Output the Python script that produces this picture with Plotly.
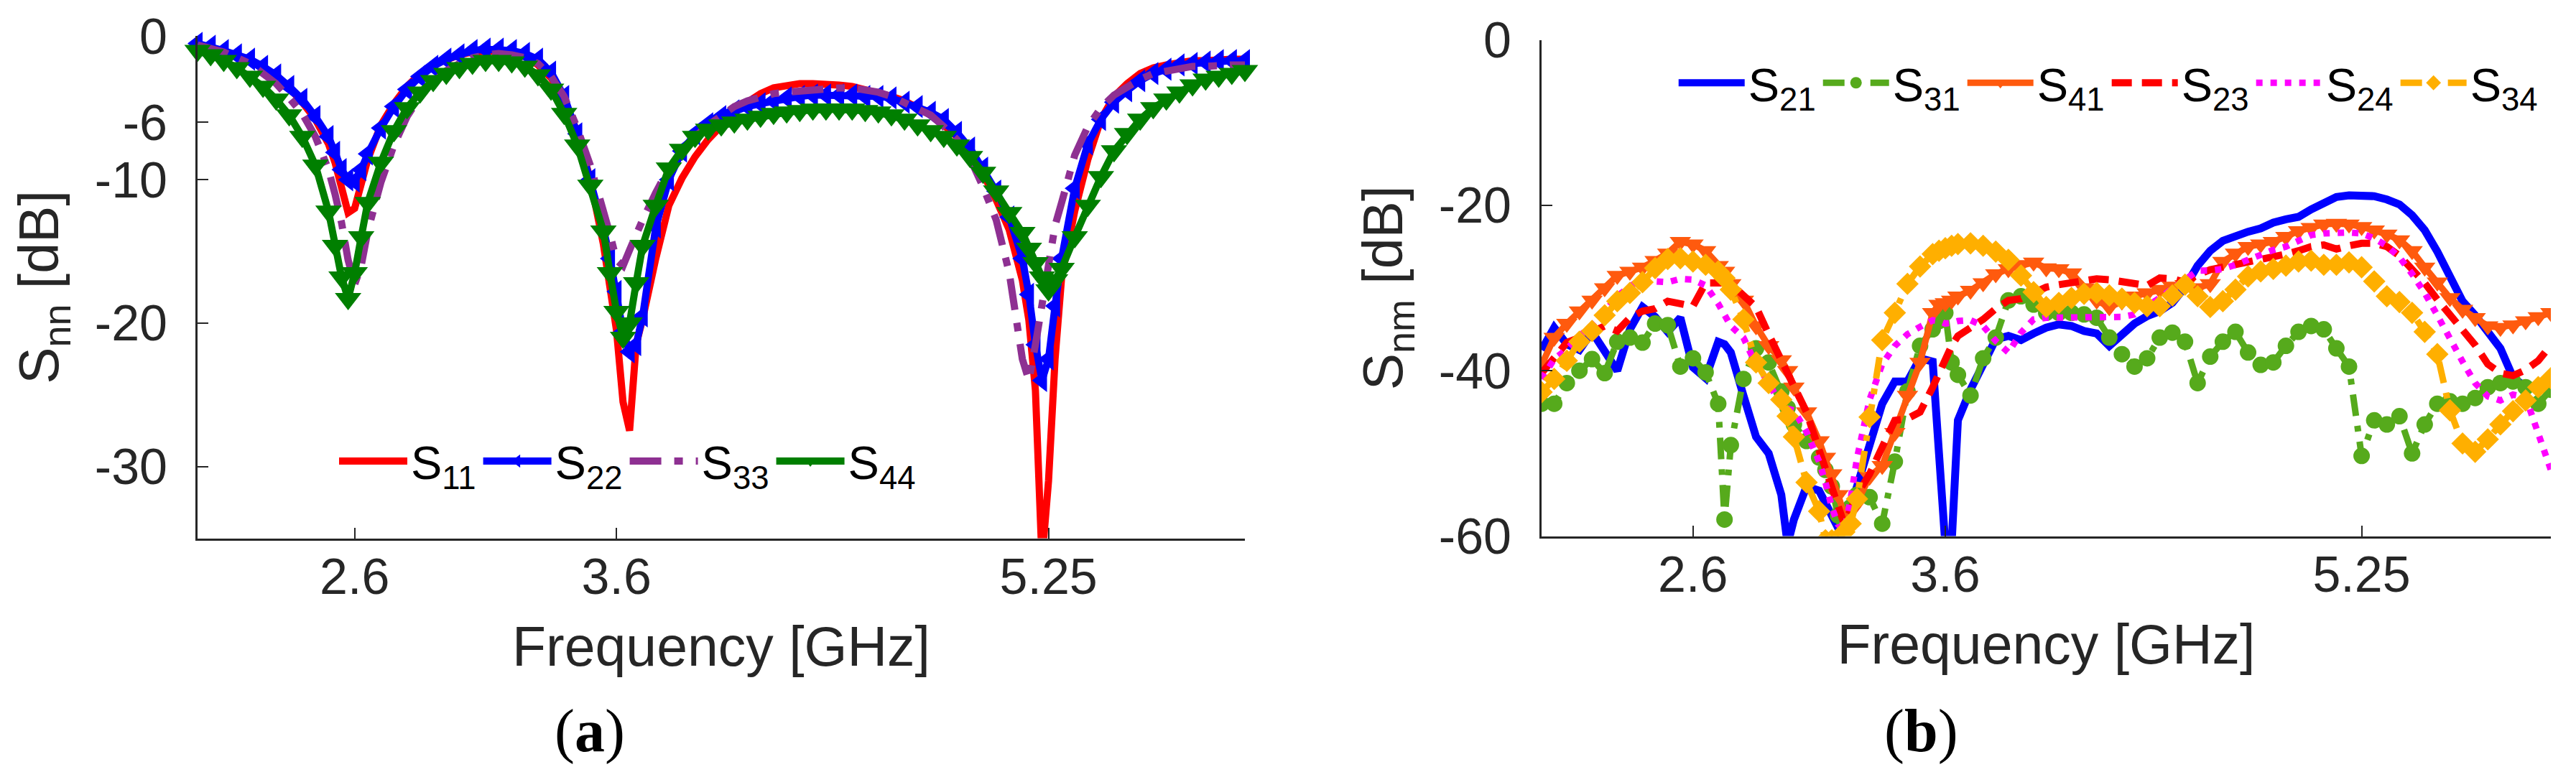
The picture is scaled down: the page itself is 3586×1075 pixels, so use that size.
import plotly.graph_objects as go

# ---- panel (a): reflection coefficients ----
freq_a = [2.00, 2.05, 2.10, 2.15, 2.20, 2.25, 2.30, 2.35, 2.40, 2.45, 2.50,
          2.525, 2.55, 2.575, 2.60, 2.625, 2.65,
          2.70, 2.75, 2.80, 2.85, 2.90, 2.95, 3.00, 3.05, 3.10, 3.15, 3.20, 3.25, 3.30, 3.35, 3.40, 3.45, 3.50, 3.55,
          3.575, 3.60, 3.625, 3.65, 3.675, 3.70,
          3.75, 3.80, 3.85, 3.90, 3.95, 4.00, 4.05, 4.10, 4.15, 4.20, 4.25, 4.30, 4.35, 4.40, 4.45,
          4.50, 4.55, 4.60, 4.65, 4.70, 4.75, 4.80, 4.85, 4.90, 4.95, 5.00, 5.05, 5.10, 5.15,
          5.175, 5.20, 5.225, 5.25, 5.275, 5.30,
          5.35, 5.40, 5.45, 5.50, 5.55, 5.60, 5.65, 5.70, 5.75, 5.80, 5.85, 5.90, 5.95, 6.00]

s11 = [-0.6, -0.8, -1.0, -1.3, -1.7, -2.2, -2.8, -3.6, -4.6, -5.8, -7.5,
       -8.8, -10.6, -12.3, -12.0, -10.4, -8.6,
       -6.2, -4.7, -3.5, -2.6, -2.0, -1.6, -1.3, -1.1, -1.0, -1.0, -1.1, -1.4, -2.0, -2.9, -4.4, -6.7, -10.0, -14.5,
       -17.5, -20.5, -25.5, -27.5, -21.5, -19.7,
       -15.5, -11.8, -9.9, -8.4, -7.2, -6.2, -5.3, -4.6, -4.0, -3.6, -3.4, -3.3, -3.3, -3.3, -3.4,
       -3.5, -3.7, -3.9, -4.2, -4.5, -5.0, -5.5, -6.2, -7.0, -8.2, -9.6, -11.4, -13.5, -17.0,
       -19.8, -24.7, -36.5, -31.0, -22.5, -16.8,
       -12.2, -8.6, -5.8, -4.2, -3.3, -2.6, -2.2, -2.0, -1.8, -1.7, -1.7, -1.6, -1.6, -1.6]

s22 = [-0.5, -0.7, -1.0, -1.3, -1.6, -2.1, -2.7, -3.5, -4.4, -5.6, -7.0,
       -8.1, -9.3, -10.0, -10.1, -9.3, -8.2,
       -6.4, -4.9, -3.7, -2.8, -2.1, -1.6, -1.3, -1.0, -0.9, -0.9, -1.0, -1.2, -1.6, -2.5, -4.2, -6.8, -10.0, -13.4,
       -15.5, -17.8, -20.6, -22.0, -21.5, -19.5,
       -13.3, -10.0, -8.0, -6.8, -6.1, -5.6, -5.2, -4.9, -4.7, -4.5, -4.3, -4.2, -4.1, -4.1, -4.1,
       -4.1, -4.2, -4.2, -4.3, -4.6, -4.9, -5.3, -5.8, -6.7, -7.8, -9.2, -10.8, -12.6, -15.5,
       -18.0, -21.5, -24.0, -22.5, -18.8, -15.5,
       -10.6, -7.5, -5.8, -4.6, -3.8, -3.1, -2.6, -2.3, -2.0, -1.9, -1.8, -1.7, -1.7, -1.7]

s33 = [-0.6, -0.8, -1.1, -1.5, -1.9, -2.6, -3.3, -4.3, -5.4, -7.0, -9.3,
       -11.0, -13.0, -15.6, -17.3, -16.0, -13.6,
       -10.2, -7.6, -5.6, -4.2, -3.2, -2.4, -1.9, -1.5, -1.3, -1.2, -1.3, -1.5, -1.9, -2.8, -4.2, -6.4, -9.0, -12.0,
       -13.8, -15.6, -16.0, -14.9, -13.8, -12.8,
       -10.9, -9.2, -8.0, -7.0, -6.2, -5.5, -4.9, -4.5, -4.2, -4.0, -3.9, -3.8, -3.7, -3.7, -3.6,
       -3.6, -3.7, -3.9, -4.2, -4.6, -5.0, -5.5, -6.3, -7.2, -8.5, -10.5, -12.8, -16.5, -22.5,
       -24.0, -21.5, -18.5, -15.5, -13.2, -11.6,
       -8.3, -6.3, -5.0, -4.1, -3.5, -3.0, -2.6, -2.4, -2.2, -2.1, -2.1, -2.0, -2.0, -2.0]

s44 = [-1.0, -1.3, -1.7, -2.2, -2.8, -3.5, -4.4, -5.5, -7.0, -9.0, -12.2,
       -14.6, -16.8, -18.3, -16.5, -14.0, -11.6,
       -8.8, -6.6, -5.0, -3.9, -3.1, -2.6, -2.2, -1.9, -1.7, -1.7, -1.8, -2.1, -2.7, -3.7, -5.4, -7.6, -10.4, -13.6,
       -16.5, -19.2, -21.0, -20.0, -17.2, -14.6,
       -11.8, -9.2, -7.9, -7.0, -6.5, -6.2, -6.0, -5.8, -5.6, -5.4, -5.3, -5.2, -5.1, -5.1, -5.1,
       -5.1, -5.2, -5.3, -5.5, -5.8, -6.2, -6.6, -7.0, -7.6, -8.4, -9.5, -10.8, -12.3, -13.7,
       -14.8, -15.8, -16.8, -17.7, -17.0, -16.2,
       -14.0, -11.8, -9.8, -8.0, -6.8, -5.8, -5.0, -4.4, -3.9, -3.4, -3.0, -2.8, -2.6, -2.4]

# ---- panel (b): coupling between ports ----
freq_b = [2.00, 2.05, 2.10, 2.15, 2.20, 2.25, 2.30, 2.35, 2.40, 2.45, 2.50, 2.55, 2.60, 2.65, 2.70,
          2.725, 2.75, 2.80, 2.85, 2.90, 2.95, 2.975, 3.00, 3.05, 3.10,
          3.125, 3.15, 3.175, 3.20, 3.225, 3.25, 3.30, 3.35, 3.40, 3.45, 3.50, 3.55,
          3.575, 3.60, 3.625, 3.65, 3.70, 3.75, 3.80, 3.85, 3.90, 3.95, 4.00,
          4.05, 4.10, 4.15, 4.20, 4.25, 4.30, 4.35, 4.40, 4.45, 4.50,
          4.55, 4.60, 4.65, 4.70, 4.75, 4.80, 4.85, 4.90, 4.95, 5.00,
          5.05, 5.10, 5.15, 5.20, 5.25, 5.30, 5.35, 5.40, 5.45, 5.50,
          5.55, 5.60, 5.65, 5.70, 5.75, 5.80, 5.85, 5.90, 5.95, 6.00]

s21 = [-37.5, -34.8, -36.8, -37.5, -35.3, -37.5, -40.0, -35.0, -32.3, -33.5, -35.3, -33.6, -39.6, -40.9, -36.5,
       -36.8, -37.8, -43.0, -48.0, -50.0, -55.0, -61.0, -58.0, -54.0, -54.5,
       -56.0, -57.7, -59.0, -59.0, -56.5, -53.5, -49.0, -44.0, -41.3, -41.3, -38.5, -38.9,
       -50.0, -61.0, -61.0, -46.0, -42.3, -39.2, -36.2, -35.8, -36.3, -35.5, -34.8,
       -34.4, -34.6, -35.2, -35.5, -37.0, -35.5, -34.3, -33.4, -32.8, -31.8,
       -29.9, -27.3, -25.5, -24.3, -23.7, -23.2, -22.8, -22.1, -21.7, -21.4,
       -20.5, -19.7, -19.0, -18.8, -18.8, -18.9, -19.3, -19.9, -21.2, -23.0,
       -25.6, -28.8, -31.6, -33.3, -35.2, -37.3, -40.8, -42.0, -41.8, -42.0]

s31 = [-44.0, -44.0, -41.5, -40.0, -38.6, -40.3, -36.5, -36.0, -36.6, -34.3, -34.5, -39.5, -38.5, -40.2, -44.0,
       -58.0, -49.0, -41.0, -37.3, -39.0, -42.5, -44.5, -46.5, -48.5, -50.5,
       -52.0, -54.0, -57.5, -58.3, -56.5, -55.0, -55.3, -58.5, -51.0, -42.5, -37.0, -35.0,
       -34.0, -33.0, -39.0, -40.5, -43.0, -38.5, -36.0, -31.5, -31.0, -32.0, -33.0,
       -33.0, -33.0, -33.2, -33.6, -36.0, -38.0, -39.5, -38.5, -36.0, -35.4,
       -36.5, -41.5, -38.3, -36.5, -35.3, -37.8, -39.3, -39.0, -37.0, -35.3,
       -34.6, -35.0, -37.3, -39.5, -50.3, -46.0, -46.5, -45.5, -50.0, -46.5,
       -44.0, -43.7, -44.0, -43.3, -42.0, -41.5, -41.3, -42.0, -44.0, -42.3]

s41 = [-39.3, -36.0, -34.3, -32.8, -31.5, -30.0, -28.5, -28.0, -27.5, -26.7, -25.8, -24.4, -24.7, -25.5, -27.3,
       -28.0, -29.5, -31.5, -34.6, -37.0, -38.7, -40.0, -42.0, -45.0, -48.5,
       -50.5, -52.5, -55.0, -57.5, -57.0, -56.0, -52.8, -51.5, -47.5, -43.0, -39.0, -33.0,
       -32.0, -31.8, -31.5, -31.0, -30.3, -29.4, -28.3, -27.7, -27.2, -26.9, -27.6,
       -27.7, -28.2, -30.0, -31.5, -32.3, -31.6, -31.0, -30.6, -30.2, -29.8,
       -29.6, -30.0, -29.5, -26.8, -25.8, -25.0, -24.7, -24.4, -23.8, -23.1,
       -22.7, -22.3, -22.2, -22.3, -22.6, -23.0, -23.5, -24.2, -25.5, -27.5,
       -29.3, -31.2, -32.6, -33.6, -34.6, -34.8, -34.5, -34.0, -33.5, -33.0]

s23 = [-40.3, -38.6, -36.6, -36.0, -35.3, -34.6, -35.2, -33.6, -32.8, -32.5, -31.6, -32.0, -32.2, -29.4, -29.3,
       -29.4, -29.5, -30.8, -32.3, -35.6, -38.8, -40.3, -41.8, -45.0, -49.6,
       -52.0, -54.0, -56.5, -58.6, -56.8, -55.0, -52.5, -49.3, -46.0, -45.8, -45.0, -42.0,
       -40.3, -38.6, -37.0, -35.8, -34.8, -33.8, -32.5, -31.5, -31.3, -30.7, -29.9,
       -29.6, -29.3, -29.1, -28.9, -29.0, -29.3, -29.6, -29.7, -28.8, -28.9,
       -29.3, -28.4, -27.8, -27.5, -27.2, -26.9, -26.6, -26.4, -25.9, -25.5,
       -25.0, -24.8, -25.3, -24.9, -24.6, -24.6, -25.0, -26.1, -27.6, -29.4,
       -31.4, -33.2, -34.8, -36.9, -39.2, -40.3, -40.6, -39.9, -38.8, -36.9]

s24 = [-41.0, -38.6, -37.4, -35.8, -34.5, -32.9, -31.0, -29.8, -28.9, -29.2, -29.3, -28.9, -29.0, -29.7, -31.9,
       -33.3, -34.6, -36.0, -39.3, -41.4, -44.4, -44.6, -44.8, -47.4, -51.0,
       -53.5, -56.5, -58.6, -59.3, -55.5, -50.6, -43.5, -39.2, -37.0, -35.6, -34.7, -33.9,
       -34.0, -34.3, -34.2, -34.0, -33.9, -34.6, -36.4, -37.8, -35.4, -33.8, -33.6,
       -33.6, -33.6, -33.6, -33.6, -33.6, -33.5, -33.2, -32.3, -31.2, -30.1,
       -28.9, -27.9, -27.9, -27.7, -27.2, -26.6, -25.8, -25.4, -25.0, -24.4,
       -23.6, -23.4, -23.3, -23.3, -23.4, -24.0, -24.9, -26.3, -28.3, -30.6,
       -33.3, -36.3, -38.9, -41.5, -43.1, -43.6, -42.9, -43.2, -47.4, -52.0]

s34 = [-42.6, -41.0, -38.8, -36.5, -35.2, -33.3, -31.6, -30.6, -29.3, -27.6, -26.5, -26.4, -26.8, -27.2, -28.0,
       -28.8, -30.2, -33.8, -39.0, -41.5, -43.5, -45.5, -48.0, -53.5, -57.0,
       -60.5, -60.5, -60.5, -59.5, -58.5, -55.5, -45.6, -36.3, -33.0, -29.5, -27.4, -25.9,
       -25.5, -25.2, -24.9, -24.7, -24.6, -24.9, -25.6, -26.6, -28.5, -30.5, -32.3,
       -31.8, -31.2, -30.7, -30.6, -30.9, -31.3, -31.8, -32.2, -32.2, -30.9,
       -29.6, -31.0, -32.3, -31.6, -30.2, -28.6, -28.0, -27.7, -27.3, -26.8,
       -26.7, -27.2, -27.2, -26.9, -27.5, -29.2, -31.0, -31.7, -33.0, -35.3,
       -38.0, -44.8, -48.8, -49.8, -48.3, -46.5, -44.9, -43.6, -42.0, -40.9]

freq_ticks = [2.6, 3.6, 5.25]
freq_ticktext = ['2.6', '3.6', '5.25']
snn_ticks = [-30, -20, -10, -6, 0]
snm_ticks = [-60, -40, -20, 0]

sans = 'Liberation Sans, Arial, sans-serif'
serif = 'Liberation Serif, Times New Roman, serif'
ink = '#262626'

traces = [
    # (a)
    go.Scatter(x=freq_a, y=s11, name='S<sub>11</sub>', mode='lines',
               line=dict(color='#ff0000', width=10), xaxis='x', yaxis='y', legend='legend'),
    go.Scatter(x=freq_a, y=s22, name='S<sub>22</sub>', mode='lines+markers',
               line=dict(color='#0000ff', width=10),
               marker=dict(symbol='triangle-left', size=28, color='#0000ff'),
               cliponaxis=False, xaxis='x', yaxis='y', legend='legend'),
    go.Scatter(x=freq_a, y=s33, name='S<sub>33</sub>', mode='lines',
               line=dict(color='#8e3092', width=10, dash='44px,18px,12px,18px'),
               xaxis='x', yaxis='y', legend='legend'),
    go.Scatter(x=freq_a, y=s44, name='S<sub>44</sub>', mode='lines+markers',
               line=dict(color='#007f00', width=10),
               marker=dict(symbol='triangle-down', size=32, color='#007f00'),
               cliponaxis=False, xaxis='x', yaxis='y', legend='legend'),
    # (b)
    go.Scatter(x=freq_b, y=s21, name='S<sub>21</sub>', mode='lines',
               line=dict(color='#0000ff', width=11), xaxis='x2', yaxis='y2', legend='legend2'),
    go.Scatter(x=freq_b, y=s31, name='S<sub>31</sub>', mode='lines+markers',
               line=dict(color='#56aa1c', width=9, dash='30px,14px,8px,14px'),
               marker=dict(symbol='circle', size=23, color='#56aa1c'),
               xaxis='x2', yaxis='y2', legend='legend2'),
    go.Scatter(x=freq_b, y=s41, name='S<sub>41</sub>', mode='lines+markers',
               line=dict(color='#ff5a0e', width=9),
               marker=dict(symbol='triangle-down', size=26, color='#ff5a0e'),
               xaxis='x2', yaxis='y2', legend='legend2'),
    go.Scatter(x=freq_b, y=s23, name='S<sub>23</sub>', mode='lines',
               line=dict(color='#ff0000', width=10, dash='28px,14px'),
               xaxis='x2', yaxis='y2', legend='legend2'),
    go.Scatter(x=freq_b, y=s24, name='S<sub>24</sub>', mode='lines',
               line=dict(color='#ff00ff', width=9, dash='9px,11px'),
               xaxis='x2', yaxis='y2', legend='legend2'),
    go.Scatter(x=freq_b, y=s34, name='S<sub>34</sub>', mode='lines+markers',
               line=dict(color='#ffaf00', width=9, dash='30px,14px,8px,14px'),
               marker=dict(symbol='diamond', size=24, color='#ffaf00'),
               xaxis='x2', yaxis='y2', legend='legend2'),
]


def x_axis(domain, anchor):
    return dict(domain=domain, anchor=anchor, range=[2, 6],
                tickmode='array', tickvals=freq_ticks, ticktext=freq_ticktext,
                ticks='inside', ticklen=15, tickwidth=2, tickcolor=ink,
                showline=True, linewidth=3, linecolor=ink, mirror=False,
                showgrid=False, zeroline=False, automargin=False, ticklabelstandoff=-10,
                tickfont=dict(family=sans, size=70, color=ink),
                title=dict(text='Frequency [GHz]', standoff=33,
                           font=dict(family=sans, size=77, color=ink)))


def y_axis(domain, anchor, rng, tickvals, title):
    return dict(domain=domain, anchor=anchor, range=rng,
                tickmode='array', tickvals=tickvals, ticktext=[str(v) for v in tickvals],
                ticks='inside', ticklen=15, tickwidth=2, tickcolor=ink,
                showline=True, linewidth=3, linecolor=ink, mirror=False,
                showgrid=False, zeroline=False, automargin=False, ticklabelstandoff=25,
                tickfont=dict(family=sans, size=70, color=ink),
                title=dict(text=title, standoff=25,
                           font=dict(family=sans, size=77, color=ink)))


legend_style = dict(orientation='h', xanchor='left', yanchor='middle',
                    bgcolor='rgba(0,0,0,0)', borderwidth=0,
                    font=dict(family=sans, size=65, color='#000000'),
                    itemclick=False, itemdoubleclick=False)

layout = go.Layout(
    width=3586, height=1075,
    margin=dict(l=0, r=0, t=0, b=0, autoexpand=False),
    paper_bgcolor='white', plot_bgcolor='white',
    showlegend=True,
    xaxis=x_axis([0.07446, 0.48104], 'y'),
    yaxis=y_axis([0.31023, 0.96047], 'x', [-35, 0], snn_ticks, 'S<sub>nn</sub> [dB]'),
    xaxis2=x_axis([0.59621, 0.98801], 'y2'),
    yaxis2=y_axis([0.31302, 0.95581], 'x2', [-60, 0], snm_ticks, 'S<sub>nm</sub> [dB]'),
    legend=dict(legend_style, x=0.128, y=0.41, itemwidth=95),
    legend2=dict(legend_style, x=0.648, y=0.9, itemwidth=92),
    annotations=[
        dict(text='(<b>a</b>)', x=0.2267, y=0.06, xref='paper', yref='paper',
             xanchor='center', yanchor='middle', showarrow=False,
             font=dict(family=serif, size=84, color='#000000')),
        dict(text='(<b>b</b>)', x=0.7435, y=0.06, xref='paper', yref='paper',
             xanchor='center', yanchor='middle', showarrow=False,
             font=dict(family=serif, size=84, color='#000000')),
    ],
)

fig = go.Figure(data=traces, layout=layout)
fig.write_html("out.html")
